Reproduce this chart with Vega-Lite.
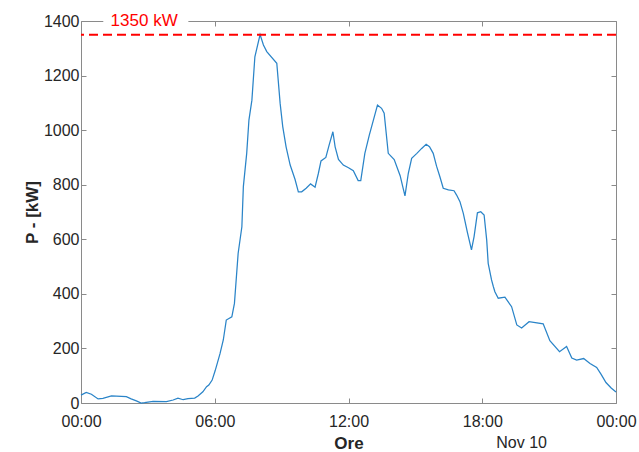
{
  "$schema": "https://vega.github.io/schema/vega-lite/v6.json",
  "width": 535,
  "height": 382,
  "autosize": {"type": "none"},
  "padding": {"left": 81, "top": 21, "right": 23, "bottom": 49},
  "background": "white",
  "config": {
    "view": {"stroke": null},
    "font": "Liberation Sans",
    "axis": {
      "grid": false,
      "domainColor": "#8a8a8a",
      "domainWidth": 1,
      "tickColor": "#8a8a8a",
      "tickWidth": 1,
      "tickSize": -5,
      "labelColor": "#262626",
      "labelFont": "Liberation Sans",
      "labelFontSize": 16,
      "titleColor": "#262626",
      "titleFont": "Liberation Sans",
      "titleFontSize": 17,
      "titleFontWeight": "bold"
    }
  },
  "data": {
    "values": [
      {"t": "2023-11-10T00:00", "p": 29},
      {"t": "2023-11-10T00:14", "p": 39},
      {"t": "2023-11-10T00:28", "p": 32},
      {"t": "2023-11-10T00:46", "p": 15},
      {"t": "2023-11-10T00:59", "p": 17},
      {"t": "2023-11-10T01:22", "p": 26},
      {"t": "2023-11-10T02:02", "p": 23},
      {"t": "2023-11-10T02:15", "p": 15},
      {"t": "2023-11-10T02:29", "p": 8},
      {"t": "2023-11-10T02:42", "p": 0},
      {"t": "2023-11-10T02:51", "p": 1},
      {"t": "2023-11-10T03:14", "p": 6},
      {"t": "2023-11-10T03:50", "p": 5},
      {"t": "2023-11-10T04:08", "p": 11},
      {"t": "2023-11-10T04:21", "p": 18},
      {"t": "2023-11-10T04:35", "p": 12},
      {"t": "2023-11-10T04:48", "p": 16},
      {"t": "2023-11-10T05:06", "p": 18},
      {"t": "2023-11-10T05:15", "p": 26},
      {"t": "2023-11-10T05:28", "p": 41},
      {"t": "2023-11-10T05:38", "p": 60},
      {"t": "2023-11-10T05:44", "p": 66},
      {"t": "2023-11-10T05:53", "p": 84},
      {"t": "2023-11-10T06:01", "p": 118},
      {"t": "2023-11-10T06:14", "p": 180},
      {"t": "2023-11-10T06:23", "p": 231},
      {"t": "2023-11-10T06:31", "p": 304},
      {"t": "2023-11-10T06:46", "p": 316},
      {"t": "2023-11-10T06:53", "p": 365},
      {"t": "2023-11-10T07:03", "p": 549},
      {"t": "2023-11-10T07:13", "p": 646},
      {"t": "2023-11-10T07:17", "p": 793},
      {"t": "2023-11-10T07:26", "p": 915},
      {"t": "2023-11-10T07:32", "p": 1037},
      {"t": "2023-11-10T07:40", "p": 1110},
      {"t": "2023-11-10T07:48", "p": 1269},
      {"t": "2023-11-10T08:02", "p": 1350},
      {"t": "2023-11-10T08:11", "p": 1312},
      {"t": "2023-11-10T08:20", "p": 1288},
      {"t": "2023-11-10T08:47", "p": 1245},
      {"t": "2023-11-10T08:56", "p": 1098},
      {"t": "2023-11-10T09:03", "p": 1013},
      {"t": "2023-11-10T09:12", "p": 939},
      {"t": "2023-11-10T09:23", "p": 872},
      {"t": "2023-11-10T09:36", "p": 820},
      {"t": "2023-11-10T09:45", "p": 774},
      {"t": "2023-11-10T09:54", "p": 774},
      {"t": "2023-11-10T10:06", "p": 787},
      {"t": "2023-11-10T10:18", "p": 803},
      {"t": "2023-11-10T10:30", "p": 791},
      {"t": "2023-11-10T10:39", "p": 842},
      {"t": "2023-11-10T10:46", "p": 887},
      {"t": "2023-11-10T10:59", "p": 900},
      {"t": "2023-11-10T11:08", "p": 946},
      {"t": "2023-11-10T11:18", "p": 994},
      {"t": "2023-11-10T11:24", "p": 939},
      {"t": "2023-11-10T11:33", "p": 893},
      {"t": "2023-11-10T11:46", "p": 872},
      {"t": "2023-11-10T12:00", "p": 862},
      {"t": "2023-11-10T12:13", "p": 851},
      {"t": "2023-11-10T12:26", "p": 815},
      {"t": "2023-11-10T12:33", "p": 815},
      {"t": "2023-11-10T12:44", "p": 915},
      {"t": "2023-11-10T12:56", "p": 982},
      {"t": "2023-11-10T13:07", "p": 1037},
      {"t": "2023-11-10T13:18", "p": 1092},
      {"t": "2023-11-10T13:29", "p": 1080},
      {"t": "2023-11-10T13:36", "p": 1062},
      {"t": "2023-11-10T13:47", "p": 915},
      {"t": "2023-11-10T14:03", "p": 892},
      {"t": "2023-11-10T14:19", "p": 833},
      {"t": "2023-11-10T14:26", "p": 793},
      {"t": "2023-11-10T14:32", "p": 759},
      {"t": "2023-11-10T14:41", "p": 842},
      {"t": "2023-11-10T14:50", "p": 897},
      {"t": "2023-11-10T15:04", "p": 915},
      {"t": "2023-11-10T15:17", "p": 933},
      {"t": "2023-11-10T15:29", "p": 948},
      {"t": "2023-11-10T15:38", "p": 939},
      {"t": "2023-11-10T15:48", "p": 915},
      {"t": "2023-11-10T15:57", "p": 868},
      {"t": "2023-11-10T16:06", "p": 829},
      {"t": "2023-11-10T16:15", "p": 787},
      {"t": "2023-11-10T16:29", "p": 781},
      {"t": "2023-11-10T16:44", "p": 778},
      {"t": "2023-11-10T16:51", "p": 762},
      {"t": "2023-11-10T17:00", "p": 738},
      {"t": "2023-11-10T17:09", "p": 695},
      {"t": "2023-11-10T17:20", "p": 625},
      {"t": "2023-11-10T17:31", "p": 561},
      {"t": "2023-11-10T17:38", "p": 610},
      {"t": "2023-11-10T17:47", "p": 697},
      {"t": "2023-11-10T17:56", "p": 701},
      {"t": "2023-11-10T18:05", "p": 689},
      {"t": "2023-11-10T18:12", "p": 597},
      {"t": "2023-11-10T18:16", "p": 512},
      {"t": "2023-11-10T18:25", "p": 451},
      {"t": "2023-11-10T18:30", "p": 426},
      {"t": "2023-11-10T18:34", "p": 408},
      {"t": "2023-11-10T18:43", "p": 384},
      {"t": "2023-11-10T19:01", "p": 388},
      {"t": "2023-11-10T19:19", "p": 353},
      {"t": "2023-11-10T19:33", "p": 286},
      {"t": "2023-11-10T19:46", "p": 275},
      {"t": "2023-11-10T20:06", "p": 298},
      {"t": "2023-11-10T20:44", "p": 290},
      {"t": "2023-11-10T21:02", "p": 228},
      {"t": "2023-11-10T21:28", "p": 188},
      {"t": "2023-11-10T21:47", "p": 207},
      {"t": "2023-11-10T22:01", "p": 165},
      {"t": "2023-11-10T22:14", "p": 157},
      {"t": "2023-11-10T22:33", "p": 163},
      {"t": "2023-11-10T22:50", "p": 145},
      {"t": "2023-11-10T23:08", "p": 130},
      {"t": "2023-11-10T23:20", "p": 105},
      {"t": "2023-11-10T23:33", "p": 75},
      {"t": "2023-11-10T23:47", "p": 55},
      {"t": "2023-11-11T00:00", "p": 40}
    ]
  },
  "layer": [
    {
      "mark": {"type": "line", "color": "#2a84c8", "strokeWidth": 1.25, "interpolate": "linear"},
      "encoding": {
        "x": {
          "field": "t",
          "type": "temporal",
          "scale": {
            "domain": [
              {"year": 2023, "month": 11, "date": 10, "hours": 0},
              {"year": 2023, "month": 11, "date": 11, "hours": 0}
            ]
          },
          "axis": {
            "orient": "bottom",
            "title": "Ore",
            "format": "%H:%M",
            "values": [
              {"year": 2023, "month": 11, "date": 10, "hours": 0},
              {"year": 2023, "month": 11, "date": 10, "hours": 6},
              {"year": 2023, "month": 11, "date": 10, "hours": 12},
              {"year": 2023, "month": 11, "date": 10, "hours": 18},
              {"year": 2023, "month": 11, "date": 11, "hours": 0}
            ],
            "labelPadding": 15,
            "labelFlush": false,
            "labelOverlap": false,
            "labelBound": false,
            "titlePadding": 6
          }
        },
        "y": {
          "field": "p",
          "type": "quantitative",
          "scale": {"domain": [0, 1400], "nice": false, "zero": false},
          "axis": {
            "orient": "left",
            "title": "P - [kW]",
            "format": "d",
            "values": [0, 200, 400, 600, 800, 1000, 1200, 1400],
            "labelPadding": 7,
            "labelFlush": false,
            "labelOverlap": false,
            "titlePadding": 2
          }
        }
      }
    },
    {
      "data": {"values": [{}]},
      "mark": {"type": "rect", "color": "white"},
      "encoding": {
        "x": {
          "datum": {"year": 2023, "month": 11, "date": 10, "hours": 1, "minutes": 0},
          "type": "temporal",
          "axis": {
            "orient": "top",
            "labels": false,
            "title": null,
            "values": [
              {"year": 2023, "month": 11, "date": 10, "hours": 0},
              {"year": 2023, "month": 11, "date": 10, "hours": 6},
              {"year": 2023, "month": 11, "date": 10, "hours": 12},
              {"year": 2023, "month": 11, "date": 10, "hours": 18},
              {"year": 2023, "month": 11, "date": 11, "hours": 0}
            ]
          }
        },
        "x2": {"datum": {"year": 2023, "month": 11, "date": 10, "hours": 4, "minutes": 49}},
        "y": {
          "datum": 1375,
          "type": "quantitative",
          "axis": {
            "orient": "right",
            "labels": false,
            "title": null,
            "values": [0, 200, 400, 600, 800, 1000, 1200, 1400]
          }
        },
        "y2": {"datum": 1426}
      }
    },
    {
      "data": {"values": [{}]},
      "mark": {"type": "rule", "color": "#ff0000", "strokeWidth": 2, "strokeDash": [9, 5]},
      "encoding": {
        "y": {"datum": 1350, "type": "quantitative", "axis": null}
      }
    },
    {
      "data": {"values": [{}]},
      "mark": {"type": "text", "color": "#ff0000", "fontSize": 17, "baseline": "middle", "align": "center", "font": "Liberation Sans"},
      "encoding": {
        "x": {"datum": {"year": 2023, "month": 11, "date": 10, "hours": 2, "minutes": 50}, "type": "temporal", "axis": null},
        "y": {"datum": 1400, "type": "quantitative", "axis": null},
        "text": {"value": "1350 kW"}
      }
    },
    {
      "data": {"values": [{}]},
      "mark": {"type": "text", "color": "#262626", "fontSize": 16, "baseline": "middle", "align": "center", "font": "Liberation Sans"},
      "encoding": {
        "x": {"datum": {"year": 2023, "month": 11, "date": 10, "hours": 19, "minutes": 46}, "type": "temporal", "axis": null},
        "y": {"datum": -147, "type": "quantitative", "axis": null},
        "text": {"value": "Nov 10"}
      }
    }
  ],
  "resolve": {"axis": {"x": "independent", "y": "independent"}}
}
